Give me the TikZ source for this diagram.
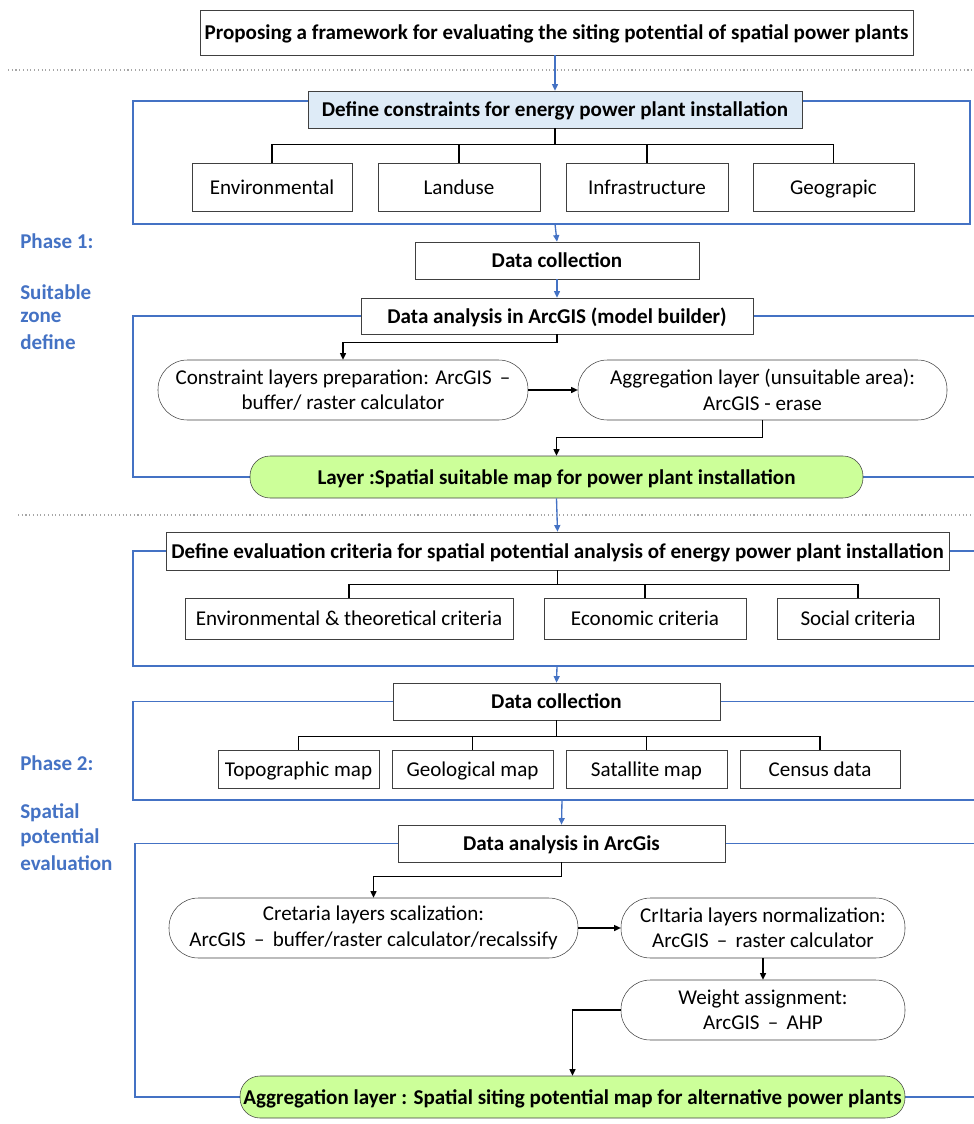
\documentclass[tikz,border=0pt]{standalone}
\usepackage{fontspec}
\setmainfont{Carlito}
\usetikzlibrary{arrows.meta}

\definecolor{frameblue}{HTML}{4472C4}
\definecolor{headfill}{HTML}{DEEBF7}
\definecolor{layerfill}{HTML}{CCFF99}

\begin{document}
\begin{tikzpicture}[x=0.75pt, y=-0.75pt,
    every node/.style={font=\fontsize{15.8}{19}\selectfont, inner sep=2pt},
    box/.style={draw=black!75, fill=white, minimum height=#1*0.75pt, align=center, text height=13pt, text depth=2.5pt},
    box/.default=48,
    head/.style={box=37, fill=headfill, font=\fontsize{15.8}{19}\selectfont\bfseries},
    bold/.style={box=37, font=\fontsize{15.8}{19}\selectfont\bfseries},
    pill/.style={draw=black!75, fill=white, rounded corners=22pt, minimum height=45pt, align=center},
    layer/.style={pill, fill=layerfill, rounded corners=15pt, minimum height=31.5pt, text height=13pt, text depth=2.5pt, font=\fontsize{15.8}{19}\selectfont\bfseries},
    frame/.style={draw=frameblue, line width=1pt},
    flow/.style={draw=frameblue, line width=1pt, -{Triangle[length=5pt, width=4.5pt]}},
    stepline/.style={draw=black, line width=1pt, -{Triangle[length=5pt, width=4.5pt]}},
    phase/.style={text=frameblue, font=\fontsize{15.8}{19}\selectfont\bfseries, anchor=west, inner sep=0pt}]

        \useasboundingbox (0,0) rectangle (974,1124);

        % Blue frames of the two phases
        \draw[frame] (133,101) rectangle (970,224);
        \draw[frame] (133,316) rectangle (1000,477);
        \draw[frame] (133,551) rectangle (1000,666);
        \draw[frame] (133,701.5) rectangle (1000,800);
        \draw[frame] (135,843.5) rectangle (1000,1097);

        % Dotted separators
        \draw[gray!70, dotted, line width=0.8pt] (8,70) -- (974,70);
        \draw[gray!70, dotted, line width=0.8pt] (18,515) -- (974,515);

        % Phase labels
        \node[phase] (p1) at (20,241) {Phase 1:};
        \node[phase] (p1a) at (20,292) {Suitable};
        \node[phase] (p1b) at (20,317) {zone};
        \node[phase] (p1c) at (20,342) {define};
        \node[phase] (p2) at (20,763) {Phase 2:};
        \node[phase] (p2a) at (20,813) {Spatial};
        \node[phase] (p2b) at (20,838) {potential};
        \node[phase] (p2c) at (20,863) {evaluation};

        % Title
        \node[bold, box=45, minimum width=534.75pt] (title) at (556.5,32.5) {Proposing a framework for evaluating the siting potential of spatial power plants};

        % Phase 1
        \node[head, minimum width=370.5pt] (constr) at (555,109.5) {Define constraints for energy power plant installation};
        \node[box, minimum width=120pt] (env) at (272,187) {Environmental};
        \node[box, minimum width=121.5pt] (land) at (459,187) {Landuse};
        \node[box, minimum width=121.5pt] (infra) at (647,187) {Infrastructure};
        \node[box, minimum width=120.75pt] (geo) at (833.5,187) {Geograpic};
        \coordinate (f1s) at (555,224);
        \node[bold, minimum width=213pt] (dc1) at (557,260.5) {Data collection};
        \node[bold, box=36, minimum width=294pt] (da1) at (557,316) {Data analysis in ArcGIS (model builder)};
        \node[pill, minimum width=277.5pt] (prep) at (343,390) {Constraint layers preparation: ArcGIS \,--\\buffer/ raster calculator};
        \node[pill, minimum width=276.75pt] (aggr) at (762.5,390) {Aggregation layer (unsuitable area):\\ArcGIS - erase};
        \node[layer, minimum width=459.75pt] (suit) at (556.5,477) {Layer :Spatial suitable map for power plant installation};

        % Phase 2
        \node[head, box=38, minimum width=587.25pt] (crit) at (557.5,551) {Define evaluation criteria for spatial potential analysis of energy power plant installation};
        \node[box=41, minimum width=246pt] (envt) at (349,618.5) {Environmental \& theoretical criteria};
        \node[box=41, minimum width=151.5pt] (econ) at (645,618.5) {Economic criteria};
        \node[box=41, minimum width=121.5pt] (soc) at (858,618.5) {Social criteria};
        \coordinate (f3s) at (557,666);
        \node[bold, minimum width=245.25pt] (dc2) at (556.5,701.5) {Data collection};
        \node[box=38, minimum width=120.75pt] (topo) at (298.5,769) {Topographic map};
        \node[box=38, minimum width=120.75pt] (geol) at (472.5,769) {Geological map};
        \node[box=38, minimum width=120.75pt] (sat) at (646.5,769) {Satallite map};
        \node[box=38, minimum width=120pt] (cens) at (820,769) {Census data};
        \coordinate (f4s) at (562,800);
        \node[bold, minimum width=245.25pt] (da2) at (561.5,843.5) {Data analysis in ArcGis};
        \node[pill, minimum width=306.75pt] (scal) at (373.5,928) {Cretaria layers scalization:\\ArcGIS \,--\, buffer/raster calculator/recalssify};
        \node[pill, minimum width=213pt] (norm) at (763,928) {CrItaria layers normalization:\\ArcGIS \,--\, raster calculator};
        \node[pill, minimum width=213pt] (weig) at (763,1010) {Weight assignment:\\ArcGIS \,--\, AHP};
        \node[layer, minimum width=498.75pt] (pot) at (572.5,1097) {Aggregation layer : Spatial siting potential map for alternative power plants};

        % Tree branches
        \foreach \c in {env,land,infra,geo}
            \draw[line width=1pt] (\c.north) -- ++(0,-18) -| (constr.south);
        \foreach \c in {envt,econ,soc}
            \draw[line width=1pt] (\c.north) -- ++(0,-13) -| (crit.south);
        \foreach \c in {topo,geol,sat,cens}
            \draw[line width=1pt] (\c.north) -- ++(0,-13) -| (dc2.south);

        % Flow between stages
        \draw[flow] (title.south -| constr.north) -- (constr.north);
        \draw[flow] (f1s) -- (dc1.north);
        \draw[flow] (dc1) -- (da1);
        \draw[flow] (suit.south) -- (crit.north);
        \draw[flow] (f3s) -- (dc2.north);
        \draw[flow] (f4s) -- (da2.north);

        % Steps inside the phases
        \draw[stepline] (da1.south) -- ++(0,8) -| (prep.north);
        \draw[stepline] (prep) -- (aggr);
        \draw[stepline] (aggr.south) -- ++(0,17) -| (suit.north);
        \draw[stepline] (da2.south) -- ++(0,14) -| (scal.north);
        \draw[stepline] (scal) -- (norm);
        \draw[stepline] (norm) -- (weig);
        \draw[stepline] (weig.west) -| (pot.north);
    \end{tikzpicture}
\end{document}
